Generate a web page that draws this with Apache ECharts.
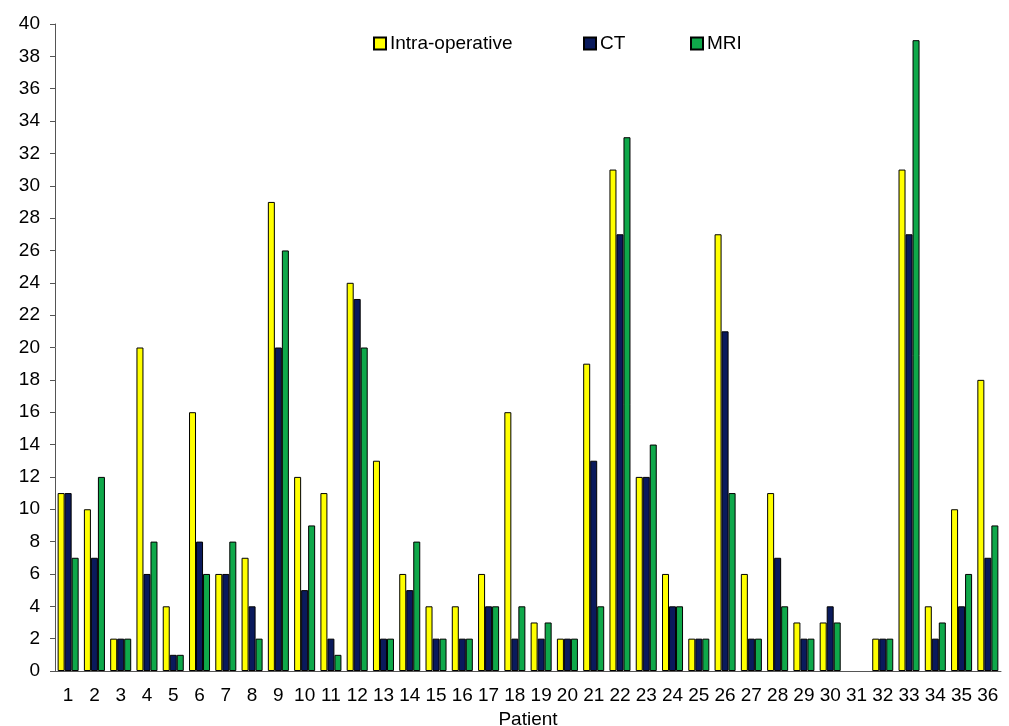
<!DOCTYPE html>
<html><head><meta charset="utf-8">
<script src="https://cdn.jsdelivr.net/npm/echarts@6/dist/echarts.min.js"></script>
<style>html,body{margin:0;padding:0;background:#fff}#c{width:1009px;height:726px}</style>
</head><body><div id="c"></div>
<script>
const categories = Array.from({length:36},(_,i)=>String(i+1));
const intraOperative = [11,10,2,20,4,16,6,7,29,12,11,24,13,6,4,4,6,16,3,2,19,31,12,6,2,27,6,11,3,3,0,2,31,4,10,18];
const ct = [11,7,2,6,1,8,6,4,20,5,2,23,2,5,2,2,4,2,2,2,13,27,12,4,2,21,2,7,2,4,0,2,27,2,4,7];
const mri = [7,12,2,8,1,6,8,2,26,9,1,20,2,8,2,2,4,4,3,2,4,33,14,4,2,11,2,4,2,3,0,2,39,3,6,9];
const yTicks = {min:0,max:40,interval:2};
const seriesNames = ['Intra-operative','CT','MRI'];

const font = 'Liberation Sans, Arial, sans-serif';
const chart = echarts.init(document.getElementById('c'));
function s(name,data,color){
  return {name,type:'bar',barGap:'0%',barCategoryGap:'20%',
    data:data.map(v=>v===0?{value:0,itemStyle:{borderWidth:0}}:v),
    itemStyle:{color,borderColor:'#000',borderWidth:1}};
}
const legendBase = {top:29,itemWidth:12,itemHeight:12,itemGap:0,icon:'rect',
  textStyle:{fontFamily:font,fontSize:19,color:'#000',padding:[0,0,0,-1]}};
chart.setOption({
  animation:false,
  grid:{left:55,right:8,top:24,bottom:55,containLabel:false,outerBoundsMode:'none'},
  legend:[
    Object.assign({left:368,data:[seriesNames[0]]},legendBase),
    Object.assign({left:578,data:[seriesNames[1]]},legendBase),
    Object.assign({left:685,data:[seriesNames[2]]},legendBase)
  ],
  xAxis:{type:'category',data:categories,name:'Patient',nameLocation:'middle',nameGap:35,
    nameTextStyle:{fontFamily:font,fontSize:19,color:'#000'},
    axisLine:{lineStyle:{color:'#555'}},axisTick:{lineStyle:{color:'#555'},length:5},
    axisLabel:{fontFamily:font,fontSize:19,color:'#000',interval:0,margin:15}},
  yAxis:{type:'value',min:yTicks.min,max:yTicks.max,interval:yTicks.interval,
    axisLine:{show:true,lineStyle:{color:'#555'}},axisTick:{show:true,lineStyle:{color:'#555'},length:5},
    splitLine:{show:false},
    axisLabel:{fontFamily:font,fontSize:19,color:'#000',margin:15}},
  series:[s(seriesNames[0],intraOperative,'#ffff00'),s(seriesNames[1],ct,'#0a1a5c'),s(seriesNames[2],mri,'#0fa84a')]
});
</script></body></html>
